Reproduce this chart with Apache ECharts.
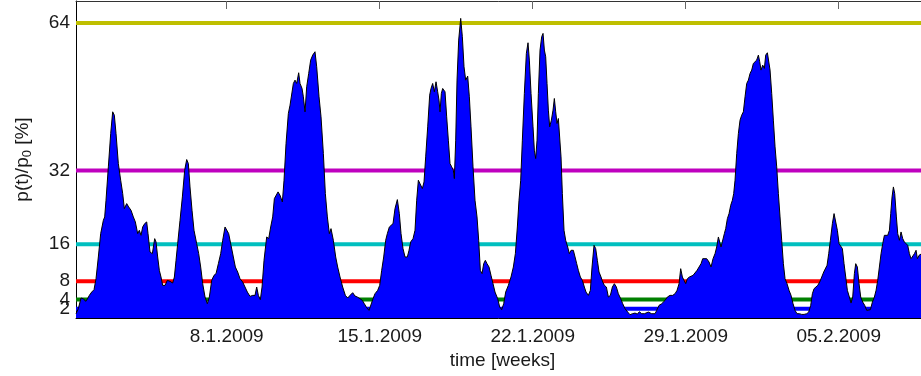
<!DOCTYPE html>
<html>
<head>
<meta charset="utf-8">
<script src="https://cdn.jsdelivr.net/npm/echarts@6/dist/echarts.min.js"></script>
<style>
  html, body { margin: 0; padding: 0; background: #fff; }
  #chart { width: 921px; height: 376px; }
</style>
</head>
<body>
<div id="chart"></div>
<script>
// Time in days since 1 Jan 2009 00:00
const dayOffset = [
  0.106,0.212,0.334,0.441,0.548,0.624,0.716,0.822,0.929,1.021,
  1.127,1.234,1.356,1.417,1.478,1.585,1.692,1.783,1.859,1.936,
  2.042,2.149,2.241,2.317,2.424,2.515,2.622,2.729,2.820,2.927,
  3.003,3.079,3.156,3.247,3.339,3.400,3.491,3.598,3.705,3.766,
  3.842,3.918,3.994,4.071,4.178,4.284,4.406,4.528,4.605,4.681,
  4.757,4.864,4.971,5.077,5.169,5.245,5.321,5.413,5.504,5.626,
  5.718,5.809,5.901,6.008,6.114,6.206,6.313,6.419,6.511,6.618,
  6.724,6.816,6.923,6.999,7.090,7.197,7.304,7.396,7.502,7.609,
  7.731,7.838,7.945,8.067,8.189,8.295,8.372,8.448,8.539,8.616,
  8.707,8.829,8.921,9.012,9.104,9.180,9.271,9.348,9.439,9.546,
  9.622,9.714,9.820,9.897,9.973,10.049,10.125,10.202,10.293,10.354,
  10.446,10.507,10.583,10.659,10.751,10.842,10.934,11.040,11.117,11.224,
  11.315,11.422,11.513,11.605,11.696,11.772,11.879,11.986,12.077,12.184,
  12.306,12.428,12.535,12.642,12.764,12.871,12.977,13.099,
  13.206,13.297,13.404,13.511,13.602,13.694,13.785,13.907,13.999,14.090,
  14.182,14.273,14.349,14.441,14.517,14.609,14.700,14.807,14.898,14.975,
  15.066,15.158,15.264,15.341,15.417,15.524,15.615,15.691,15.768,15.859,
  15.951,16.027,16.103,16.195,16.286,16.347,16.423,16.500,16.576,16.652,
  16.713,16.759,16.820,16.881,16.988,17.064,17.140,17.217,17.293,17.369,
  17.415,17.476,17.537,17.613,17.705,17.781,17.857,17.933,18.025,18.101,
  18.177,18.269,18.360,18.452,18.528,18.604,18.681,18.757,18.833,18.909,
  19.001,19.092,19.184,19.275,19.397,19.489,19.580,19.672,19.763,19.885,
  20.007,20.114,20.206,20.297,20.373,20.450,20.526,20.617,20.709,20.785,
  20.846,20.923,21.014,21.075,21.136,21.197,21.258,21.334,21.411,21.472,
  21.533,21.594,21.655,21.716,21.777,21.853,21.929,21.990,22.051,22.112,
  22.173,22.234,22.295,22.356,22.432,22.508,22.600,22.676,22.753,22.859,
  22.936,23.012,23.088,23.180,23.271,23.363,23.439,23.546,23.637,23.713,
  23.805,23.881,23.958,24.034,24.125,24.202,24.278,24.370,24.461,24.553,
  24.644,24.735,24.827,24.918,25.025,25.117,25.223,25.345,25.452,25.559,
  25.681,25.788,25.879,25.986,26.108,
  26.291,26.444,26.596,26.672,26.779,26.901,27.054,27.160,27.282,27.404,
  27.511,27.603,27.694,27.770,27.847,27.923,27.999,28.075,28.167,28.243,
  28.335,28.426,28.518,28.609,28.701,28.777,28.853,28.960,29.067,29.158,
  29.250,29.341,29.417,29.494,29.555,29.616,29.692,29.768,29.829,29.905,
  29.982,30.058,30.134,30.195,30.256,30.333,30.409,30.485,30.561,30.637,
  30.714,30.790,30.866,30.943,31.019,31.095,31.171,31.247,31.324,31.385,
  31.446,31.522,31.598,31.659,31.736,31.797,31.858,31.934,32.010,32.087,
  32.163,32.239,32.315,32.391,32.468,32.544,32.635,32.727,32.818,32.910,
  33.001,33.093,33.200,33.307,33.413,33.535,33.627,33.718,33.795,33.871,
  33.947,34.039,34.130,34.222,34.313,34.389,34.466,34.542,34.618,34.710,
  34.786,34.862,34.938,35.015,35.091,35.167,35.243,35.320,35.396,35.487,
  35.564,35.640,35.716,35.777,35.853,35.930,36.006,36.098,36.189,36.281,
  36.372,36.448,36.540,36.631,36.708,36.784,36.860,36.936,37.013,37.089,
  37.165,37.241,37.318,37.379,37.440,37.501,37.562,37.638,37.699,37.775,
  37.851,37.928,38.004,38.080,38.156,38.233,38.309,38.385,38.461,38.538,
  38.599,38.675,38.736,38.919
];

// p(t)/p0 in percent
const ratioPct = [
  0.93,2.01,4.33,4.19,3.61,4.11,4.91,5.63,6.14,8.53,
  13.24,18.31,21.20,21.93,25.55,32.79,40.03,44.74,44.01,40.03,
  33.51,29.89,27.00,23.74,24.82,24.10,23.37,21.93,20.84,18.31,
  19.03,17.94,19.75,20.48,20.84,18.31,14.32,13.96,17.22,16.50,
  13.24,10.34,8.89,7.08,7.08,8.17,7.95,7.59,8.89,12.51,
  16.13,21.20,26.27,32.06,34.38,33.51,28.44,23.37,19.03,16.13,
  13.96,11.06,7.44,4.55,3.10,4.55,8.17,9.25,9.62,11.79,
  13.96,16.86,19.75,20.12,18.31,15.77,13.24,11.06,9.98,8.53,
  7.81,6.72,5.63,4.69,4.91,4.91,6.72,4.91,3.97,6.72,
  12.51,17.58,17.22,19.75,21.93,25.91,25.55,27.36,26.63,25.18,
  29.89,37.86,44.37,46.18,46.55,50.89,51.61,50.89,53.21,50.89,
  49.80,47.99,44.74,50.17,53.06,55.96,57.04,57.77,54.51,47.99,
  43.65,35.68,27.00,21.93,18.31,19.39,16.86,13.24,11.06,8.89,
  6.72,4.91,4.33,4.91,5.49,4.76,4.55,4.19,
  3.82,3.10,2.23,1.65,1.65,4.19,5.27,6.00,7.08,10.34,
  13.24,16.86,18.31,19.75,19.75,20.48,23.74,25.69,22.65,18.31,
  15.05,13.24,13.24,14.69,16.50,17.22,19.03,25.55,29.89,30.25,
  28.08,29.53,34.96,41.48,48.36,49.80,50.89,49.08,51.25,49.08,
  47.27,44.74,48.72,49.80,49.08,43.65,38.58,33.51,32.79,32.06,
  30.25,38.58,51.61,60.30,65.01,61.03,54.51,51.61,52.48,47.99,
  41.48,32.79,25.55,21.93,16.86,10.34,9.62,11.79,12.51,11.79,
  11.06,9.25,7.44,5.63,4.19,2.38,1.80,3.10,5.63,7.08,
  8.89,11.06,13.96,19.75,25.55,29.89,38.58,48.72,57.41,59.72,
  55.96,48.72,41.48,36.41,34.60,38.58,48.72,58.13,61.03,61.75,
  58.13,56.68,50.89,45.10,41.48,42.93,45.10,47.63,44.74,42.20,
  43.29,42.93,34.96,27.00,19.03,16.86,15.41,13.96,14.69,14.69,
  13.24,11.79,10.34,8.89,8.17,6.72,5.63,4.91,6.00,11.06,
  15.77,15.05,12.51,9.98,8.89,7.81,7.08,6.72,4.55,4.91,
  6.72,7.44,6.72,5.27,4.19,3.10,2.01,1.29,0.71,0.93,
  1.07,0.85,1.36,0.93,0.93,
  1.29,0.93,0.93,1.65,2.74,3.10,3.82,4.55,4.91,4.91,
  5.27,6.00,7.44,10.70,8.89,8.17,7.44,8.53,8.89,9.25,
  9.25,9.62,10.34,11.06,11.79,12.87,13.09,12.87,12.15,11.06,
  12.87,13.96,15.41,17.58,17.73,15.41,15.41,18.31,19.39,21.56,
  22.65,24.46,25.55,27.00,29.89,35.68,40.03,42.93,44.01,44.74,
  47.99,50.89,51.61,53.06,53.79,55.24,54.87,55.96,57.04,55.60,
  53.79,54.87,54.15,57.04,57.55,57.41,53.79,48.72,42.93,37.13,
  32.79,27.00,21.93,16.86,11.79,8.53,7.44,6.00,4.91,3.10,
  1.65,0.93,0.93,0.78,0.78,0.93,1.29,2.74,5.27,6.36,
  6.72,7.08,7.81,8.89,9.98,9.62,11.43,13.96,16.86,20.48,
  22.65,22.29,19.03,16.13,16.50,15.05,11.79,8.89,6.00,4.55,
  3.24,4.55,9.62,11.79,11.06,7.44,4.55,3.46,2.74,1.65,
  1.29,1.80,3.46,4.55,6.00,8.17,11.06,13.96,16.13,17.94,
  18.31,17.94,19.03,22.65,26.27,28.44,27.00,21.93,18.31,16.86,
  18.67,17.22,16.50,16.13,15.77,13.96,12.87,13.24,13.96,14.69,
  12.87,13.60,13.96,14.32
];

// Reference levels drawn as horizontal lines behind the area
const levelValues = [2, 4, 8, 16, 32, 64];
const levelColors = ['#0000ff', '#008000', '#ff0000', '#00bfbf', '#bf00bf', '#bfbf00'];

// Axis ticks
const weekTickDays = [7, 14, 21, 28, 35];
const weekTickLabels = ['8.1.2009', '15.1.2009', '22.1.2009', '29.1.2009', '05.2.2009'];
const yTickValues = [2, 4, 8, 16, 32, 64];
// 2 and 4 sit so close that their labels overlap; the 4 goes on an extra
// label-only axis so the overlap check of the main axis keeps both
const yTickValuesMain = [2, 8, 16, 32, 64];
const yTickValuesExtra = [4];

const X_MIN = 0.105;
const X_MAX = 39.13;
const Y_MAX = 68.78;
const FONT = 'Liberation Sans';
const TEXT = '#1a1a1a';

const chart = echarts.init(document.getElementById('chart'), null, { renderer: 'canvas' });

const series = levelValues.map((v, i) => ({
  type: 'line',
  data: [[X_MIN, v], [X_MAX, v]],
  symbol: 'none',
  silent: true,
  z: 1,
  lineStyle: { color: levelColors[i], width: 4 }
}));

series.push({
  type: 'line',
  data: dayOffset.map((d, i) => [d, ratioPct[i]]),
  symbol: 'none',
  z: 3,
  lineStyle: { color: '#000', width: 1 },
  areaStyle: { color: '#0000ff', opacity: 1 }
});

const yLabelStyle = {
  formatter: v => String(v),
  fontSize: 19, fontFamily: FONT, color: TEXT, margin: 6,
  hideOverlap: false, showMinLabel: true, showMaxLabel: true
};

chart.setOption({
  animation: false,
  backgroundColor: '#fff',
  textStyle: { fontFamily: FONT },
  grid: { left: 76, right: -8, top: 1, bottom: 58, containLabel: false, outerBoundsMode: 'none' },
  xAxis: [
    {
      type: 'value', min: X_MIN, max: X_MAX, position: 'bottom',
      axisLine: { show: true, onZero: false, lineStyle: { color: '#000', width: 1 } },
      axisTick: { show: true, inside: true, length: 8, customValues: weekTickDays, lineStyle: { color: '#000' } },
      axisLabel: {
        customValues: weekTickDays,
        formatter: v => weekTickLabels[weekTickDays.indexOf(v)],
        fontSize: 19, fontFamily: FONT, color: TEXT, margin: 9,
        hideOverlap: false, showMinLabel: true, showMaxLabel: true
      },
      splitLine: { show: false },
      name: 'time [weeks]', nameLocation: 'middle', nameGap: 33,
      nameTextStyle: { fontSize: 19, fontFamily: FONT, color: TEXT }
    },
    {
      type: 'value', min: X_MIN, max: X_MAX, position: 'top',
      axisLine: { show: true, onZero: false, lineStyle: { color: '#333', width: 1 } },
      axisTick: { show: true, inside: true, length: 8, customValues: weekTickDays, lineStyle: { color: '#666' } },
      axisLabel: { show: false },
      splitLine: { show: false }
    }
  ],
  yAxis: [
    {
      type: 'value', min: 0, max: Y_MAX, position: 'left',
      axisLine: { show: true, onZero: false, lineStyle: { color: '#000', width: 1 } },
      axisTick: { show: true, inside: true, length: 8, customValues: yTickValues, lineStyle: { color: '#666' } },
      axisLabel: Object.assign({ customValues: yTickValuesMain }, yLabelStyle),
      splitLine: { show: false },
      name: '{n|p(t)/p}{s|0}{n| [%]}',
      nameLocation: 'middle', nameGap: 42, nameRotate: 90,
      nameTextStyle: {
        fontFamily: FONT,
        rich: {
          n: { fontSize: 19, fontFamily: FONT, color: TEXT, verticalAlign: 'middle' },
          s: { fontSize: 13, fontFamily: FONT, color: TEXT, verticalAlign: 'bottom', padding: [10, 0, 0, 0] }
        }
      }
    },
    {
      type: 'value', min: 0, max: Y_MAX, position: 'left', offset: 0,
      axisLine: { show: false },
      axisTick: { show: false },
      axisLabel: Object.assign({ customValues: yTickValuesExtra }, yLabelStyle),
      splitLine: { show: false }
    }
  ],
  series: series
});
</script>
</body>
</html>
